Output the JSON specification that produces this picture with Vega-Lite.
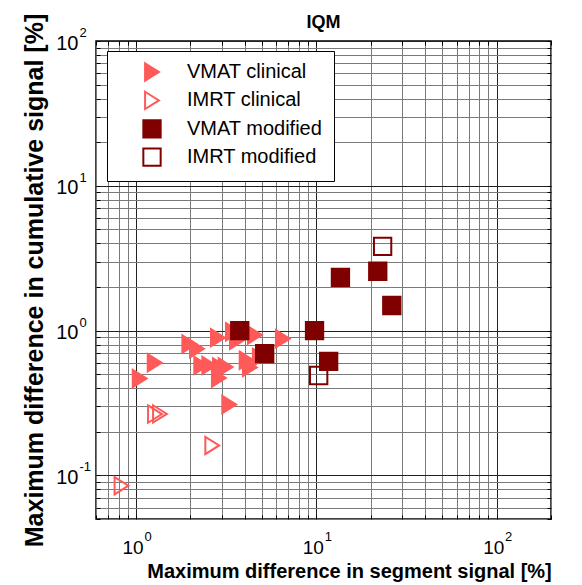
{
  "$schema": "https://vega.github.io/schema/vega-lite/v6.json",
  "width": 455,
  "height": 478,
  "autosize": "none",
  "padding": {"left": 96, "top": 41, "right": 31, "bottom": 66},
  "background": "white",
  "title": {"text": "IQM", "font": "Liberation Sans", "fontSize": 18, "fontWeight": "bold", "color": "black", "baseline": "alphabetic", "offset": 17, "dy": 50, "anchor": "middle", "frame": "group"},
  "config": {
    "view": {"stroke": "black", "strokeWidth": 1.5},
    "axis": {"labelFont": "Liberation Sans", "titleFont": "Liberation Sans", "labelColor": "black", "titleColor": "black", "domain": false, "labelOverlap": false, "labelBound": false, "labelFlush": false},
    "legend": {"orient": "none", "legendX": 11, "legendY": 10, "fillColor": "white", "strokeColor": "black", "padding": 11, "labelFont": "Liberation Sans", "labelFontSize": 20, "labelColor": "black", "symbolOffset": 24, "labelOffset": 25, "rowPadding": 2.4, "symbolStrokeWidth": 2}
  },
  "data": {"values": [
    {"x": 1.048, "y": 0.467, "series": "VMAT clinical"},
    {"x": 1.269, "y": 0.600, "series": "VMAT clinical"},
    {"x": 1.974, "y": 0.808, "series": "VMAT clinical"},
    {"x": 2.177, "y": 0.750, "series": "VMAT clinical"},
    {"x": 2.846, "y": 0.894, "series": "VMAT clinical"},
    {"x": 3.446, "y": 0.980, "series": "VMAT clinical"},
    {"x": 3.627, "y": 0.857, "series": "VMAT clinical"},
    {"x": 4.563, "y": 0.932, "series": "VMAT clinical"},
    {"x": 6.52, "y": 0.880, "series": "VMAT clinical"},
    {"x": 2.30, "y": 0.575, "series": "VMAT clinical"},
    {"x": 2.547, "y": 0.575, "series": "VMAT clinical"},
    {"x": 2.92, "y": 0.560, "series": "VMAT clinical"},
    {"x": 3.14, "y": 0.560, "series": "VMAT clinical"},
    {"x": 2.88, "y": 0.470, "series": "VMAT clinical"},
    {"x": 4.105, "y": 0.623, "series": "VMAT clinical"},
    {"x": 4.28, "y": 0.557, "series": "VMAT clinical"},
    {"x": 3.287, "y": 0.309, "series": "VMAT clinical"},
    {"x": 4.86, "y": 0.653, "series": "VMAT clinical"},
    {"x": 1.274, "y": 0.265, "series": "IMRT clinical"},
    {"x": 1.358, "y": 0.266, "series": "IMRT clinical"},
    {"x": 2.647, "y": 0.161, "series": "IMRT clinical"},
    {"x": 0.831, "y": 0.0849, "series": "IMRT clinical"},
    {"x": 3.76, "y": 1.0, "series": "VMAT modified"},
    {"x": 5.17, "y": 0.693, "series": "VMAT modified"},
    {"x": 9.77, "y": 1.0, "series": "VMAT modified"},
    {"x": 11.7, "y": 0.613, "series": "VMAT modified"},
    {"x": 13.6, "y": 2.33, "series": "VMAT modified"},
    {"x": 21.9, "y": 2.57, "series": "VMAT modified"},
    {"x": 26.2, "y": 1.49, "series": "VMAT modified"},
    {"x": 23.3, "y": 3.82, "series": "IMRT modified"},
    {"x": 10.3, "y": 0.49, "series": "IMRT modified"}
  ]},
  "layer": [
    {
      "mark": {"type": "point", "filled": true, "opacity": 1, "strokeWidth": 2},
      "encoding": {
        "x": {
          "field": "x", "type": "quantitative",
          "scale": {"type": "log", "domain": [0.6, 200], "nice": false},
          "axis": {
            "orient": "bottom",
            "values": [0.6, 0.7, 0.8, 0.9, 1, 2, 3, 4, 5, 6, 7, 8, 9, 10, 20, 30, 40, 50, 60, 70, 80, 90, 100, 200],
            "labelExpr": "datum.value == 1 || datum.value == 10 || datum.value == 100 ? '10' : ''",
            "labelFontSize": 19, "labelAlign": "center", "labelBaseline": "alphabetic", "labelPadding": 38, "labelOffset": -3.5,
            "ticks": true, "tickSize": -4, "tickColor": "black",
            "grid": true,
            "gridColor": {"condition": {"test": "datum.value == 1 || datum.value == 10 || datum.value == 100", "value": "#222222"}, "value": "#7a7a7a"},
            "gridWidth": 1, "gridOpacity": 1,
            "title": "Maximum difference in segment signal [%]",
            "titleFontSize": 20, "titleFontWeight": "bold", "titleX": 253, "titleY": 58, "titleAlign": "center", "titleBaseline": "alphabetic"
          }
        },
        "y": {
          "field": "y", "type": "quantitative",
          "scale": {"type": "log", "domain": [0.05, 100], "nice": false},
          "axis": {
            "orient": "left",
            "values": [0.05, 0.06, 0.07, 0.08, 0.09, 0.1, 0.2, 0.3, 0.4, 0.5, 0.6, 0.7, 0.8, 0.9, 1, 2, 3, 4, 5, 6, 7, 8, 9, 10, 20, 30, 40, 50, 60, 70, 80, 90, 100],
            "labelExpr": "datum.value == 0.1 || datum.value == 1 || datum.value == 10 || datum.value == 100 ? '10' : ''",
            "labelFontSize": 20, "labelAlign": "right", "labelBaseline": "alphabetic", "labelPadding": 22, "labelOffset": 8,
            "ticks": true, "tickSize": -4, "tickColor": "black",
            "grid": true,
            "gridColor": {"condition": {"test": "datum.value == 0.1 || datum.value == 1 || datum.value == 10 || datum.value == 100", "value": "#222222"}, "value": "#7a7a7a"},
            "gridWidth": 1, "gridOpacity": 1,
            "title": "Maximum difference in cumulative signal [%]",
            "titleFontSize": 25, "titleFontWeight": "bold", "titleAngle": -90, "titleX": -54, "titleY": 239, "titleAlign": "center", "titleBaseline": "alphabetic"
          }
        },
        "shape": {
          "field": "series", "type": "nominal",
          "scale": {"domain": ["VMAT clinical", "IMRT clinical", "VMAT modified", "IMRT modified"], "range": ["M-0.8,-1L0.8,0L-0.8,1Z", "M-0.8,-1L0.8,0L-0.8,1Z", "square", "square"]},
          "legend": {"title": null}
        },
        "fill": {
          "field": "series", "type": "nominal",
          "scale": {"domain": ["VMAT clinical", "IMRT clinical", "VMAT modified", "IMRT modified"], "range": ["#FF5A5A", "transparent", "#800000", "transparent"]},
          "legend": {"title": null}
        },
        "stroke": {
          "field": "series", "type": "nominal",
          "scale": {"domain": ["VMAT clinical", "IMRT clinical", "VMAT modified", "IMRT modified"], "range": ["#FF5A5A", "#FF5A5A", "#800000", "#800000"]},
          "legend": {"title": null}
        },
        "size": {
          "field": "series", "type": "nominal",
          "scale": {"domain": ["VMAT clinical", "IMRT clinical", "VMAT modified", "IMRT modified"], "range": [300, 300, 182, 182]},
          "legend": {"title": null}
        }
      }
    },
    {
      "mark": {"type": "point", "opacity": 0},
      "encoding": {
        "x": {
          "field": "x", "type": "quantitative",
          "scale": {"type": "log", "domain": [0.6, 200], "nice": false},
          "axis": {
            "orient": "bottom", "values": [1, 10, 100],
            "labelExpr": "datum.value == 1 ? '0' : datum.value == 10 ? '1' : '2'",
            "labelFontSize": 13, "labelAlign": "center", "labelBaseline": "alphabetic", "labelPadding": 21, "labelOffset": 11.5,
            "ticks": false, "grid": false, "title": null
          }
        },
        "y": {
          "field": "y", "type": "quantitative",
          "scale": {"type": "log", "domain": [0.05, 100], "nice": false},
          "axis": {
            "orient": "left", "values": [0.1, 1, 10, 100],
            "labelExpr": "datum.value == 0.1 ? '-1' : datum.value == 1 ? '0' : datum.value == 10 ? '1' : '2'",
            "labelFontSize": 13, "labelAlign": "left", "labelBaseline": "alphabetic", "labelPadding": 17, "labelOffset": -4.5,
            "ticks": false, "grid": false, "title": null
          }
        }
      }
    },
    {
      "mark": {"type": "point", "opacity": 0},
      "encoding": {
        "x": {
          "field": "x", "type": "quantitative",
          "scale": {"type": "log", "domain": [0.6, 200], "nice": false},
          "axis": {
            "orient": "top",
            "values": [0.6, 0.7, 0.8, 0.9, 1, 2, 3, 4, 5, 6, 7, 8, 9, 10, 20, 30, 40, 50, 60, 70, 80, 90, 100, 200],
            "labels": false, "ticks": true, "tickSize": -4, "tickColor": "black", "grid": false, "title": null
          }
        },
        "y": {
          "field": "y", "type": "quantitative",
          "scale": {"type": "log", "domain": [0.05, 100], "nice": false},
          "axis": {
            "orient": "right",
            "values": [0.05, 0.06, 0.07, 0.08, 0.09, 0.1, 0.2, 0.3, 0.4, 0.5, 0.6, 0.7, 0.8, 0.9, 1, 2, 3, 4, 5, 6, 7, 8, 9, 10, 20, 30, 40, 50, 60, 70, 80, 90, 100],
            "labels": false, "ticks": true, "tickSize": -4, "tickColor": "black", "grid": false, "title": null
          }
        }
      }
    }
  ],
  "resolve": {"axis": {"x": "independent", "y": "independent"}}
}
